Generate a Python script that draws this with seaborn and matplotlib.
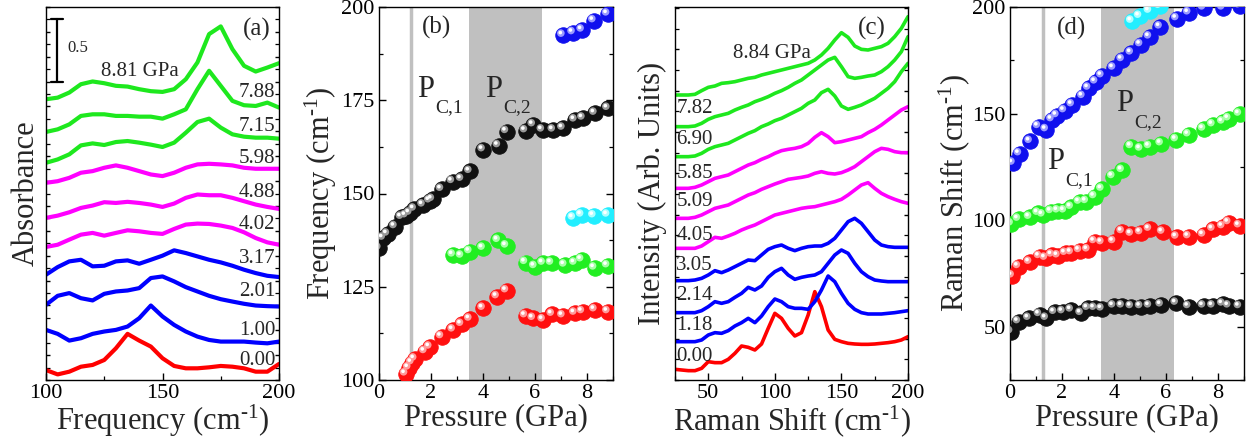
import numpy as np
import pandas as pd
import matplotlib
matplotlib.use("Agg")
import matplotlib.pyplot as plt
import matplotlib.transforms as mtransforms
from matplotlib.ticker import MultipleLocator
import seaborn as sns

# ---------------- data ----------------
# Panel (a): far-IR absorbance spectra (offset), x grid in cm^-1
a_freq = [100, 105, 110, 115, 120, 125, 130, 135, 140, 145, 150,
          155, 160, 165, 170, 175, 180, 185, 190, 195, 200]
a_labels = ["0.00", "1.00", "2.01", "3.17", "4.02", "4.88", "5.98", "7.15", "7.88", "8.81"]
a_colors = ["#ff0000", "#0000ff", "#0000ff", "#0000ff", "#ff00ff", "#ff00ff",
            "#ff00ff", "#1ee81e", "#1ee81e", "#1ee81e"]
a_000 = [0.080, 0.045, 0.067, 0.107, 0.121, 0.161, 0.255, 0.371, 0.317, 0.269, 0.175,
         0.113, 0.094, 0.094, 0.102, 0.113, 0.107, 0.094, 0.067, 0.067, 0.129]
a_100 = [0.403, 0.371, 0.317, 0.336, 0.371, 0.390, 0.403, 0.430, 0.497, 0.599, 0.511,
         0.443, 0.390, 0.349, 0.322, 0.309, 0.309, 0.309, 0.301, 0.295, 0.309]
a_201 = [0.605, 0.677, 0.699, 0.658, 0.640, 0.693, 0.712, 0.720, 0.739, 0.820, 0.833,
         0.793, 0.747, 0.712, 0.677, 0.650, 0.631, 0.613, 0.599, 0.594, 0.591]
a_317 = [0.847, 0.908, 0.954, 0.967, 0.914, 0.919, 0.954, 0.962, 0.935, 0.967, 1.000,
         1.043, 1.021, 0.994, 0.967, 0.946, 0.919, 0.887, 0.860, 0.838, 0.828]
a_402 = [1.070, 1.088, 1.129, 1.169, 1.183, 1.161, 1.183, 1.204, 1.196, 1.183, 1.175,
         1.215, 1.250, 1.258, 1.255, 1.242, 1.223, 1.188, 1.142, 1.107, 1.088]
a_488 = [1.304, 1.322, 1.349, 1.384, 1.403, 1.430, 1.424, 1.433, 1.424, 1.411, 1.392,
         1.419, 1.465, 1.492, 1.486, 1.486, 1.465, 1.438, 1.411, 1.392, 1.376]
a_598 = [1.586, 1.599, 1.626, 1.667, 1.680, 1.707, 1.726, 1.707, 1.680, 1.653, 1.640,
         1.667, 1.707, 1.734, 1.739, 1.734, 1.726, 1.707, 1.699, 1.699, 1.699]
a_715 = [1.747, 1.774, 1.815, 1.887, 1.903, 1.890, 1.914, 1.922, 1.909, 1.893, 1.874,
         1.909, 1.989, 2.075, 2.102, 2.030, 1.976, 1.957, 1.949, 1.949, 1.941]
a_788 = [1.995, 2.016, 2.056, 2.124, 2.137, 2.137, 2.124, 2.124, 2.118, 2.118, 2.102,
         2.137, 2.177, 2.339, 2.487, 2.366, 2.245, 2.210, 2.204, 2.231, 2.191]
a_881 = [2.258, 2.271, 2.312, 2.379, 2.401, 2.387, 2.366, 2.360, 2.339, 2.323, 2.317,
         2.339, 2.419, 2.554, 2.782, 2.844, 2.661, 2.527, 2.481, 2.513, 2.548]
a_label_y = [0.16, 0.40, 0.71, 0.98, 1.25, 1.51, 1.78, 2.04, 2.31]

# Panel (b): far-IR mode frequencies vs pressure
b_black_p = [0, 0.17, 0.33, 0.62, 0.87, 1.04, 1.19, 1.36, 1.7, 1.96, 2.06, 2.41, 2.83, 3.18,
             3.5, 4.01, 4.6, 4.91, 5.64, 5.94, 6.29, 6.71, 7.08, 7.54, 7.85, 8.31, 8.81]
b_black_v = [135.3, 138.0, 139.1, 141.1, 143.6, 144.0, 144.7, 145.8, 146.9, 148.0, 148.4,
             151.1, 153.2, 153.8, 155.9, 161.7, 162.8, 166.6, 166.8, 168.4, 167.0, 167.0,
             167.5, 169.7, 170.2, 171.5, 172.8]
b_green_p = [2.86, 3.18, 3.5, 4.01, 4.59, 4.91, 5.64, 6.0, 6.32, 6.64, 7.15, 7.54, 7.8, 8.3, 8.8]
b_green_v = [133.5, 133.2, 134.4, 135.3, 137.4, 135.9, 131.5, 130.4, 131.3, 131.3, 130.8,
             131.3, 132.2, 130.0, 130.6]
b_red_p = [1.03, 1.15, 1.27, 1.38, 1.77, 1.96, 2.41, 2.86, 3.18, 3.5, 4.01, 4.55, 4.91,
           5.64, 5.94, 6.32, 6.67, 7.08, 7.54, 7.83, 8.31, 8.81]
b_red_v = [101.6, 103.2, 104.6, 105.6, 107.6, 108.8, 111.6, 113.4, 114.9, 116.3, 119.2,
           122.3, 123.9, 117.2, 116.5, 116.1, 117.6, 117.2, 117.9, 118.3, 118.8, 118.3]
b_cyan_p = [7.48, 7.8, 8.27, 8.8]
b_cyan_v = [143.4, 144.2, 144.0, 144.2]
b_blue_p = [7.08, 7.47, 7.82, 8.27, 8.8]
b_blue_v = [192.4, 193.1, 193.8, 196.3, 198.1]

# Panel (c): Raman spectra (offset, arb. units)
c_shift = [25, 30, 35, 40, 45, 50, 55, 60, 65, 70, 75, 80, 85, 90, 95, 100, 105, 110,
           115, 120, 125, 130, 135, 140, 145, 150, 155, 160, 165, 170, 175, 180, 185,
           190, 195, 200]
c_labels = ["0.00", "1.18", "2.14", "3.05", "4.05", "5.09", "5.85", "6.90", "7.82", "8.84"]
c_colors = ["#ff0000", "#0000ff", "#0000ff", "#0000ff", "#ff00ff", "#ff00ff",
            "#ff00ff", "#1ee81e", "#1ee81e", "#1ee81e"]
c_000 = [32, 30, 28, 28, 35, 55, 52, 52, 62, 80, 102, 98, 90, 108, 155, 200, 185, 155,
         132, 142, 195, 265, 220, 150, 122, 115, 110, 108, 107, 107, 108, 110, 112, 115, 120, 130]
c_118 = [115, 115, 115, 115, 120, 135, 142, 140, 148, 162, 172, 185, 172, 192, 220, 243,
         235, 220, 215, 215, 212, 235, 270, 312, 295, 260, 230, 212, 202, 198, 198, 198,
         200, 202, 205, 208]
c_214 = [202, 202, 202, 202, 208, 220, 235, 230, 235, 248, 260, 278, 270, 282, 308, 325,
         335, 315, 302, 308, 312, 315, 325, 350, 375, 390, 380, 350, 325, 310, 300, 297,
         295, 295, 295, 295]
c_305 = [298, 298, 298, 300, 305, 315, 328, 322, 330, 340, 350, 360, 358, 375, 392, 400,
         405, 395, 388, 395, 400, 402, 402, 410, 425, 450, 475, 485, 470, 445, 420, 405,
         400, 398, 398, 398]
c_405 = [395, 395, 395, 395, 402, 415, 428, 425, 432, 440, 450, 458, 465, 475, 485, 495,
         500, 505, 510, 515, 518, 520, 525, 530, 535, 542, 555, 570, 585, 592, 575, 560,
         550, 542, 535, 530]
c_509 = [485, 485, 485, 488, 495, 505, 515, 520, 525, 535, 545, 555, 562, 572, 580, 588,
         595, 602, 605, 608, 612, 620, 625, 620, 618, 622, 630, 640, 655, 670, 685, 695,
         692, 685, 682, 682]
c_585 = [575, 575, 575, 578, 585, 595, 605, 610, 615, 625, 635, 645, 652, 662, 670, 680,
         688, 692, 695, 700, 710, 728, 742, 730, 712, 715, 720, 725, 730, 742, 752, 765,
         780, 795, 810, 820]
c_690 = [670, 670, 670, 672, 680, 692, 700, 705, 710, 720, 730, 740, 748, 760, 768, 778,
         785, 795, 805, 815, 830, 840, 862, 872, 852, 822, 812, 818, 825, 835, 845, 860,
         875, 895, 925, 950]
c_782 = [760, 760, 760, 762, 770, 782, 790, 795, 800, 810, 818, 825, 835, 842, 850, 860,
         868, 878, 890, 900, 915, 930, 945, 960, 968, 940, 910, 905, 908, 912, 915, 925,
         940, 960, 985, 1030]
c_884 = [855, 855, 855, 857, 868, 878, 882, 890, 892, 895, 900, 905, 908, 915, 920, 925,
         930, 935, 940, 945, 950, 960, 975, 995, 1020, 1042, 1028, 1002, 992, 990, 995,
         1000, 1010, 1030, 1055, 1090]
c_label_y = [70, 165, 255, 345, 435, 535, 620, 720, 815]

# Panel (d): Raman mode frequencies vs pressure
d_black_p = [0.03, 0.33, 0.73, 1.14, 1.4, 1.72, 2.04, 2.36, 2.74, 3.0, 3.26, 3.54, 3.99,
             4.32, 4.67, 5.03, 5.37, 5.82, 6.4, 6.88, 7.45, 7.81, 8.19, 8.42, 8.83]
d_black_v = [47.6, 52.3, 53.9, 55.7, 53.9, 56.7, 57.0, 57.8, 56.2, 58.6, 58.6, 58.3, 59.7,
             59.7, 59.4, 59.4, 59.7, 60.2, 61.0, 59.4, 59.7, 59.7, 60.6, 59.7, 59.4]
d_red_p = [0.09, 0.33, 0.76, 1.14, 1.37, 1.62, 1.85, 2.14, 2.36, 2.68, 3.0, 3.26, 3.54,
           3.99, 4.32, 4.67, 5.03, 5.37, 5.88, 6.42, 6.88, 7.45, 7.81, 8.19, 8.42, 8.83]
d_red_v = [73.8, 78.2, 80.2, 82.9, 82.1, 83.6, 83.2, 84.4, 84.7, 85.7, 86.0, 89.9, 89.4,
           89.9, 94.6, 93.4, 94.1, 95.7, 94.3, 92.0, 92.2, 93.0, 95.7, 96.9, 98.8, 97.3]
d_green_p = [0.05, 0.33, 0.76, 1.09, 1.27, 1.59, 1.85, 2.1, 2.36, 2.68, 2.94, 3.26, 3.54,
             3.96, 4.32, 4.67, 5.03, 5.37, 5.82, 6.4, 6.88, 7.45, 7.81, 8.19, 8.42, 8.83]
d_green_v = [98.2, 100.4, 101.3, 103.2, 102.4, 104.0, 104.3, 104.3, 106.0, 108.4, 108.7,
             111.0, 114.5, 120.4, 123.3, 134.5, 133.3, 134.5, 135.8, 137.7, 140.0, 142.7,
             144.7, 146.0, 147.5, 149.7]
d_blue_p = [0.12, 0.37, 0.78, 1.1, 1.4, 1.62, 1.81, 2.1, 2.4, 2.81, 3.03, 3.3, 3.54, 3.99,
            4.32, 4.67, 5.03, 5.37, 5.78, 6.42, 6.88, 7.45, 8.19, 8.83]
d_blue_v = [126.7, 131.1, 136.9, 143.9, 142.4, 147.1, 149.0, 151.3, 154.1, 158.0, 161.9,
            164.8, 167.7, 171.3, 175.3, 178.4, 182.3, 185.9, 190.6, 194.5, 197.2, 199.5,
            199.5, 200.5]
d_cyan_p = [4.69, 4.99, 5.37, 5.76]
d_cyan_v = [193.3, 195.6, 198.0, 200.3]

# transition pressures
pc1_b, pc2_b = 1.23, (3.47, 6.27)
pc1_d, pc2_d = 1.27, (3.5, 6.3)

# ---------------- style ----------------
sns.set_theme(style="ticks")
SERIF = "Liberation Serif"
plt.rcParams["font.family"] = [SERIF, "DejaVu Serif"]
plt.rcParams["mathtext.fontset"] = "custom"
plt.rcParams["mathtext.rm"] = SERIF
plt.rcParams["mathtext.it"] = SERIF + ":italic"
plt.rcParams["axes.linewidth"] = 1.0
plt.rcParams["axes.edgecolor"] = "black"

fig = plt.figure(figsize=(12.56, 4.46), dpi=100)
bottom, top = 66 / 446, 439 / 446
h = top - bottom
axa = fig.add_axes([46 / 1256, bottom, 233 / 1256, h])
axb = fig.add_axes([379 / 1256, bottom, 234 / 1256, h])
axc = fig.add_axes([675 / 1256, bottom, 233 / 1256, h])
axd = fig.add_axes([1010 / 1256, bottom, 234 / 1256, h])

TICK = 16
LAB = 22
ANN = 15
CM = r"cm$^{\text{-1}}$"


def style_ticks(ax, ylabels=True):
    ax.tick_params(which="both", direction="in", colors="black", labelsize=TICK,
                   right=True, left=True, bottom=True, top=False, labelleft=ylabels)
    ax.tick_params(which="major", length=5, width=1.0, pad=3)
    ax.tick_params(which="minor", length=3, width=0.9)


def spectra(ax, xs, curves, colors, lw):
    for ys, col in zip(curves, colors):
        df = pd.DataFrame({"x": xs, "y": ys})
        sns.lineplot(data=df, x="x", y="y", ax=ax, color=col, lw=lw, sort=False,
                     estimator=None, legend=False)


def spheres(ax, p, v, color, light):
    df = pd.DataFrame({"p": p, "v": v})
    sns.scatterplot(data=df, x="p", y="v", ax=ax, s=125, color=color,
                    edgecolor=color, linewidth=0.6, legend=False, zorder=3)
    off = mtransforms.offset_copy(ax.transData, fig=fig, x=-1.6, y=1.6, units="points")
    sns.scatterplot(data=df, x="p", y="v", ax=ax, s=30, color=light, edgecolor="none",
                    linewidth=0, legend=False, zorder=4, transform=off)
    off2 = mtransforms.offset_copy(ax.transData, fig=fig, x=-2.0, y=2.0, units="points")
    sns.scatterplot(data=df, x="p", y="v", ax=ax, s=7, color="white", edgecolor="none",
                    linewidth=0, legend=False, zorder=5, transform=off2)


def pc_label(ax, x, y, sub):
    t = ax.text(x, y, "P", ha="left", va="center", fontsize=22)
    ax.annotate(sub, xy=(1, 0), xycoords=t, xytext=(1, -3), textcoords="offset points",
                ha="left", va="center", fontsize=14)


# ---------------- panel (a) ----------------
a_curves = [a_000, a_100, a_201, a_317, a_402, a_488, a_598, a_715, a_788, a_881]
spectra(axa, a_freq, a_curves, a_colors, 3.0)
axa.set_xlim(100, 200)
axa.set_ylim(0, 3.0)
axa.xaxis.set_major_locator(MultipleLocator(50))
axa.xaxis.set_minor_locator(MultipleLocator(25))
axa.yaxis.set_major_locator(MultipleLocator(0.2))
axa.yaxis.set_minor_locator(MultipleLocator(0.1))
style_ticks(axa, ylabels=False)
axa.tick_params(axis="y", which="major", length=3)
axa.set_xlabel("Frequency (" + CM + ")", fontsize=LAB, labelpad=0)
axa.set_ylabel("Absorbance", fontsize=LAB, labelpad=4)
for lab, yy in zip(a_labels[:-1], a_label_y):
    axa.text(198.5, yy, lab, ha="right", va="center", fontsize=ANN)
axa.text(140.5, 2.48, a_labels[-1] + " GPa", ha="center", va="center", fontsize=ANN)
axa.text(190.5, 2.82, "(a)", ha="center", va="center", fontsize=18)
# scale bar 0.5
axa.plot([104.7, 104.7], [2.40, 2.90], color="black", lw=1.6)
axa.plot([102.2, 107.2], [2.90, 2.90], color="black", lw=1.6)
axa.plot([102.2, 107.2], [2.40, 2.40], color="black", lw=1.6)
axa.text(109, 2.67, "0.5", ha="left", va="center", fontsize=12)

# ---------------- panel (b) ----------------
axb.axvspan(pc2_b[0], pc2_b[1], color="#c0c0c0", lw=0, zorder=0)
axb.axvline(pc1_b, color="#c0c0c0", lw=2.5, zorder=0)
spheres(axb, b_black_p, b_black_v, "#111111", "#9a9a9a")
spheres(axb, b_green_p, b_green_v, "#22ee22", "#a8ffa8")
spheres(axb, b_red_p, b_red_v, "#ff1010", "#ff9a9a")
spheres(axb, b_cyan_p, b_cyan_v, "#22eeff", "#b0ffff")
spheres(axb, b_blue_p, b_blue_v, "#1010ee", "#9a9aff")
axb.set_xlim(0, 9)
axb.set_ylim(100, 200)
axb.xaxis.set_major_locator(MultipleLocator(2))
axb.xaxis.set_minor_locator(MultipleLocator(1))
axb.yaxis.set_major_locator(MultipleLocator(25))
axb.yaxis.set_minor_locator(MultipleLocator(12.5))
style_ticks(axb)
axb.set_xlabel("Pressure (GPa)", fontsize=LAB, labelpad=0)
axb.set_ylabel("Frequency (" + CM + ")", fontsize=LAB, labelpad=2)
axb.text(2.22, 194.5, "(b)", ha="center", va="center", fontsize=18)
pc_label(axb, 1.45, 178.0, "C,1")
pc_label(axb, 4.08, 178.0, "C,2")

# ---------------- panel (c) ----------------
c_curves = [c_000, c_118, c_214, c_305, c_405, c_509, c_585, c_690, c_782, c_884]
spectra(axc, c_shift, c_curves, c_colors, 2.6)
axc.set_xlim(25, 200)
axc.set_ylim(0, 1119)
axc.xaxis.set_major_locator(MultipleLocator(50))
axc.xaxis.set_minor_locator(MultipleLocator(25))
axc.yaxis.set_major_locator(MultipleLocator(124))
axc.yaxis.set_minor_locator(MultipleLocator(62))
style_ticks(axc, ylabels=False)
axc.tick_params(axis="y", which="major", length=3)
axc.set_xlabel("Raman Shift (" + CM + ")", fontsize=LAB, labelpad=0)
axc.set_ylabel("Intensity (Arb. Units)", fontsize=LAB, labelpad=6)
for lab, yy in zip(c_labels[:-1], c_label_y):
    axc.text(26.0, yy, lab, ha="left", va="center", fontsize=ANN)
axc.text(97.5, 980, c_labels[-1] + " GPa", ha="center", va="center", fontsize=ANN)
axc.text(172.5, 1055, "(c)", ha="center", va="center", fontsize=18)

# ---------------- panel (d) ----------------
axd.axvspan(pc2_d[0], pc2_d[1], color="#c0c0c0", lw=0, zorder=0)
axd.axvline(pc1_d, color="#c0c0c0", lw=2.5, zorder=0)
spheres(axd, d_black_p, d_black_v, "#111111", "#9a9a9a")
spheres(axd, d_red_p, d_red_v, "#ff1010", "#ff9a9a")
spheres(axd, d_green_p, d_green_v, "#22ee22", "#a8ffa8")
spheres(axd, d_blue_p, d_blue_v, "#1010ee", "#9a9aff")
spheres(axd, d_cyan_p, d_cyan_v, "#22eeff", "#b0ffff")
axd.set_xlim(0, 9)
axd.set_ylim(25, 200)
axd.xaxis.set_major_locator(MultipleLocator(2))
axd.xaxis.set_minor_locator(MultipleLocator(1))
axd.yaxis.set_major_locator(MultipleLocator(50))
axd.yaxis.set_minor_locator(MultipleLocator(25))
style_ticks(axd)
axd.set_xlabel("Pressure (GPa)", fontsize=LAB, labelpad=0)
axd.set_ylabel("Raman Shift (" + CM + ")", fontsize=LAB, labelpad=0)
axd.text(2.37, 190.0, "(d)", ha="center", va="center", fontsize=18)
pc_label(axd, 1.42, 127.5, "C,1")
pc_label(axd, 4.08, 154.5, "C,2")

for ax in (axa, axb, axc, axd):
    for sp in ax.spines.values():
        sp.set_visible(True)
        sp.set_color("black")
        sp.set_linewidth(1.0)

fig.savefig("out.png", dpi=100)
